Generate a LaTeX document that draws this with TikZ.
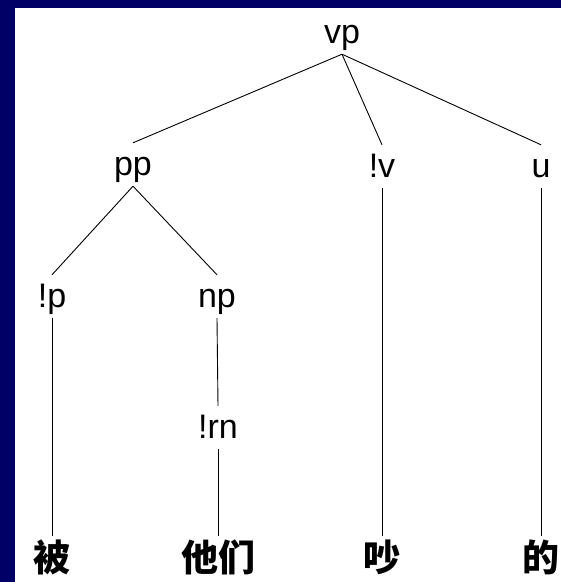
\documentclass[tikz,border=0pt]{standalone}
\usepackage{fontspec}
\setmainfont{Liberation Sans}
\newfontfamily\cjk{Noto Sans CJK SC}
\definecolor{slidenavy}{RGB}{0,0,102}
\begin{document}
\begin{tikzpicture}[x=1pt, y=-1pt,
		cat/.style={anchor=base, font=\fontsize{34}{34}\selectfont, text height=27pt, text depth=6pt, inner xsep=2pt, inner ysep=5pt},
		word/.style={anchor=base, font=\cjk\bfseries\fontsize{37}{37}\selectfont, text height=33pt, text depth=4pt, inner xsep=0pt, inner ysep=2pt},
		branch/.style={line width=0.9pt}]
	\useasboundingbox (0,0) rectangle (561,582);
	% the slide frame, left and top only
	\fill[slidenavy] (0,0) rectangle (15,582);
	\fill[slidenavy] (0,0) rectangle (561,8);
	% the categories
	\node[cat] (vp) at (342,43) {vp};
	\node[cat] (pp) at (133,175) {pp};
	\node[cat] (v) at (382,177) {!v};
	\node[cat] (u) at (541,177) {u};
	\node[cat] (p) at (52,307) {!p};
	\node[cat] (np) at (217,307) {np};
	\node[cat] (rn) at (218,438) {!rn};
	% the words
	\node[word] (bei) at (52,571) {被};
	\node[word] (tamen) at (218,571) {他们};
	\node[word] (chao) at (382,571) {吵};
	\node[word] (de) at (541,571) {的};
	% the branches
	\draw[branch] (vp.south) -- (pp.north);
	\draw[branch] (vp.south) -- (v.north);
	\draw[branch] (vp.south) -- (u.north);
	\draw[branch] (pp.south) -- (p.north);
	\draw[branch] (pp.south) -- (np.north);
	\draw[branch] (np.south) -- (rn.north);
	\draw[branch] (p.south) -- (bei.north);
	\draw[branch] (rn.south) -- (tamen.north);
	\draw[branch] (v.south) -- (chao.north);
	\draw[branch] (u.south) -- (de.north);
\end{tikzpicture}
\end{document}
